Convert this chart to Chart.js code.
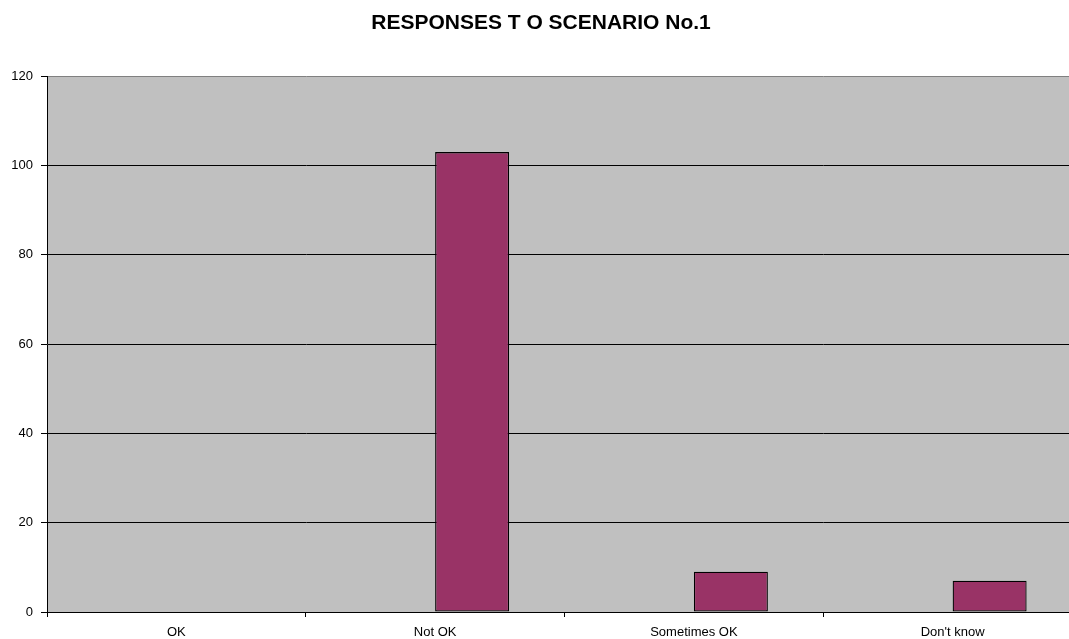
<!DOCTYPE html>
<html>
<head>
<meta charset="utf-8">
<title>Responses to Scenario No.1</title>
<script src="https://cdn.jsdelivr.net/npm/chart.js@4/dist/chart.umd.min.js"></script>
<style>
  html, body { margin: 0; padding: 0; background: #fff; overflow: hidden; }
  #wrap { width: 1069px; height: 639px; overflow: hidden; }
</style>
</head>
<body>
<div id="wrap"><canvas id="chart" width="1085" height="639"></canvas></div>
<script>
// Survey answers
const categories = ['OK', 'Not OK', 'Sometimes OK', "Don't know"];
const emptySeries = [null, null, null, null];
const responses = [0, 103, 9, 7];
const yTicks = [0, 20, 40, 60, 80, 100, 120];

const FONT = "'Liberation Sans', Arial, sans-serif";

// grey plotting area behind the bars
const plotBackground = {
    id: 'plotBackground',
    beforeDraw: (chart) => {
        const { ctx, chartArea: a } = chart;
        ctx.save();
        ctx.fillStyle = '#c0c0c0';
        ctx.fillRect(a.left, a.top, a.right - a.left, a.bottom - a.top);
        ctx.restore();
    }
};

new Chart(document.getElementById('chart').getContext('2d'), {
    type: 'bar',
    data: {
        labels: categories,
        datasets: [
            {
                label: '',
                data: emptySeries,
                backgroundColor: '#993366',
                borderColor: '#000',
                borderWidth: 1
            },
            {
                label: 'Responses',
                data: responses,
                backgroundColor: '#993366',
                borderColor: '#000',
                borderWidth: 1.3,
                borderSkipped: false
            }
        ]
    },
    options: {
        responsive: false,
        animation: false,
        layout: { padding: { left: 0, right: 3, top: 0, bottom: 0 } },
        datasets: { bar: { categoryPercentage: 0.572, barPercentage: 1 } },
        plugins: {
            legend: { display: false },
            tooltip: { enabled: false },
            title: {
                display: true,
                text: 'RESPONSES T O SCENARIO No.1',
                color: '#000',
                font: { family: FONT, size: 21, weight: 'bold' },
                padding: { top: 11, bottom: 40 }
            }
        },
        scales: {
            x: {
                grid: {
                    offset: true,
                    drawOnChartArea: false,
                    color: '#000',
                    tickLength: 5
                },
                border: { color: '#000', width: 1 },
                ticks: { color: '#000', font: { family: FONT, size: 13 }, padding: 8, maxRotation: 0 },
                afterFit: (s) => { s.height = 27; }
            },
            y: {
                min: 0,
                max: 120,
                afterBuildTicks: (s) => { s.ticks = yTicks.map(v => ({ value: v })); },
                grid: {
                    color: (c) => (c.tick && c.tick.value === 120 ? '#808080' : '#000'),
                    tickColor: '#000',
                    tickLength: 6
                },
                border: { color: '#000', width: 1 },
                ticks: { color: '#000', font: { family: FONT, size: 13 }, padding: 8 },
                afterFit: (s) => { s.width = 47; }
            }
        }
    },
    plugins: [plotBackground]
});
</script>
</body>
</html>
